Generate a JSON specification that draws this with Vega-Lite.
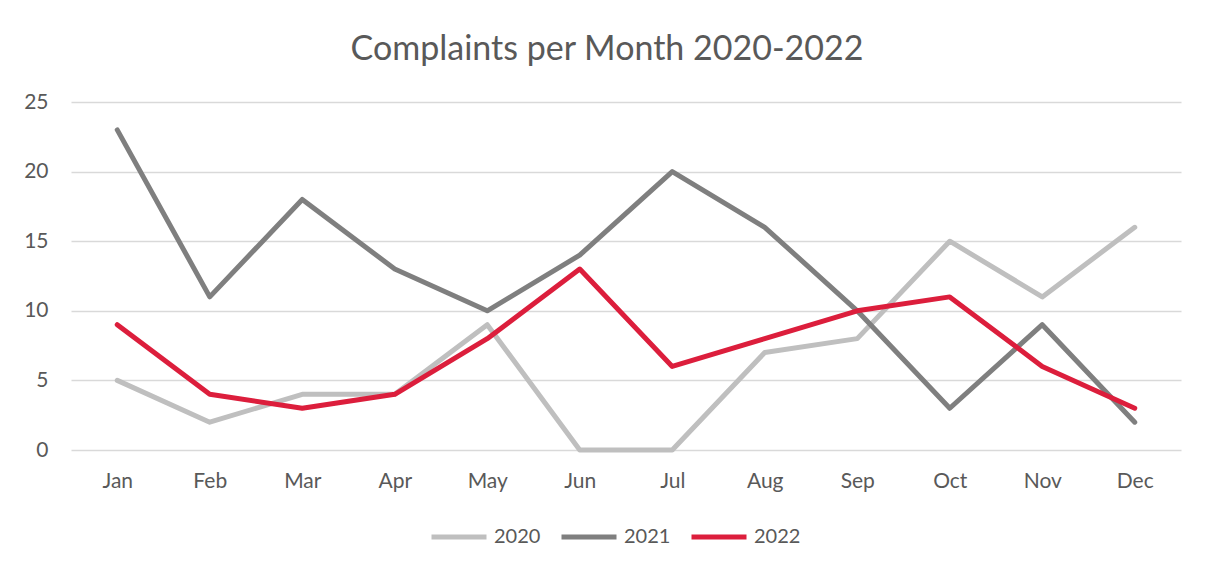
{
  "$schema": "https://vega.github.io/schema/vega-lite/v6.json",
  "width": 1110,
  "height": 348,
  "autosize": {"type": "none"},
  "padding": {"left": 71, "top": 102, "right": 24, "bottom": 119},
  "background": "white",
  "title": {
    "text": "Complaints per Month 2020-2022",
    "font": "Lato",
    "fontSize": 34,
    "fontWeight": "normal",
    "color": "#595959",
    "anchor": "middle",
    "dx": -19,
    "baseline": "alphabetic",
    "offset": -3
  },
  "data": {
    "values": [
      {"month": "Jan", "year": "2020", "value": 5},
      {"month": "Feb", "year": "2020", "value": 2},
      {"month": "Mar", "year": "2020", "value": 4},
      {"month": "Apr", "year": "2020", "value": 4},
      {"month": "May", "year": "2020", "value": 9},
      {"month": "Jun", "year": "2020", "value": 0},
      {"month": "Jul", "year": "2020", "value": 0},
      {"month": "Aug", "year": "2020", "value": 7},
      {"month": "Sep", "year": "2020", "value": 8},
      {"month": "Oct", "year": "2020", "value": 15},
      {"month": "Nov", "year": "2020", "value": 11},
      {"month": "Dec", "year": "2020", "value": 16},
      {"month": "Jan", "year": "2021", "value": 23},
      {"month": "Feb", "year": "2021", "value": 11},
      {"month": "Mar", "year": "2021", "value": 18},
      {"month": "Apr", "year": "2021", "value": 13},
      {"month": "May", "year": "2021", "value": 10},
      {"month": "Jun", "year": "2021", "value": 14},
      {"month": "Jul", "year": "2021", "value": 20},
      {"month": "Aug", "year": "2021", "value": 16},
      {"month": "Sep", "year": "2021", "value": 10},
      {"month": "Oct", "year": "2021", "value": 3},
      {"month": "Nov", "year": "2021", "value": 9},
      {"month": "Dec", "year": "2021", "value": 2},
      {"month": "Jan", "year": "2022", "value": 9},
      {"month": "Feb", "year": "2022", "value": 4},
      {"month": "Mar", "year": "2022", "value": 3},
      {"month": "Apr", "year": "2022", "value": 4},
      {"month": "May", "year": "2022", "value": 8},
      {"month": "Jun", "year": "2022", "value": 13},
      {"month": "Jul", "year": "2022", "value": 6},
      {"month": "Aug", "year": "2022", "value": 8},
      {"month": "Sep", "year": "2022", "value": 10},
      {"month": "Oct", "year": "2022", "value": 11},
      {"month": "Nov", "year": "2022", "value": 6},
      {"month": "Dec", "year": "2022", "value": 3}
    ]
  },
  "mark": {"type": "line", "strokeWidth": 5, "strokeCap": "round", "strokeJoin": "round"},
  "encoding": {
    "x": {
      "field": "month",
      "type": "ordinal",
      "sort": ["Jan","Feb","Mar","Apr","May","Jun","Jul","Aug","Sep","Oct","Nov","Dec"],
      "scale": {"type": "point", "padding": 0.5},
      "axis": {
        "title": null,
        "labelAngle": 0,
        "domain": false,
        "ticks": false,
        "grid": false,
        "labelFont": "Lato",
        "labelFontSize": 21,
        "labelColor": "#595959",
        "labelPadding": 20
      }
    },
    "y": {
      "field": "value",
      "type": "quantitative",
      "scale": {"domain": [0, 25], "nice": false},
      "axis": {
        "title": null,
        "values": [0, 5, 10, 15, 20, 25],
        "domain": false,
        "ticks": false,
        "grid": true,
        "gridColor": "#d9d9d9",
        "gridWidth": 1.5,
        "labelFont": "Lato",
        "labelFontSize": 21,
        "labelColor": "#595959",
        "labelPadding": 23
      }
    },
    "color": {
      "field": "year",
      "type": "nominal",
      "scale": {"domain": ["2020", "2021", "2022"], "range": ["#bfbfbf", "#7f7f7f", "#dc1e3c"]},
      "legend": {
        "title": null,
        "orient": "none",
        "legendX": 358,
        "legendY": 405,
        "direction": "horizontal",
        "symbolType": "stroke",
        "symbolSize": 3025,
        "symbolStrokeWidth": 5,
        "labelFont": "Lato",
        "labelFontSize": 20,
        "labelColor": "#595959",
        "labelOffset": 5,
        "columnPadding": 10
      }
    }
  },
  "config": {"view": {"stroke": null}}
}
